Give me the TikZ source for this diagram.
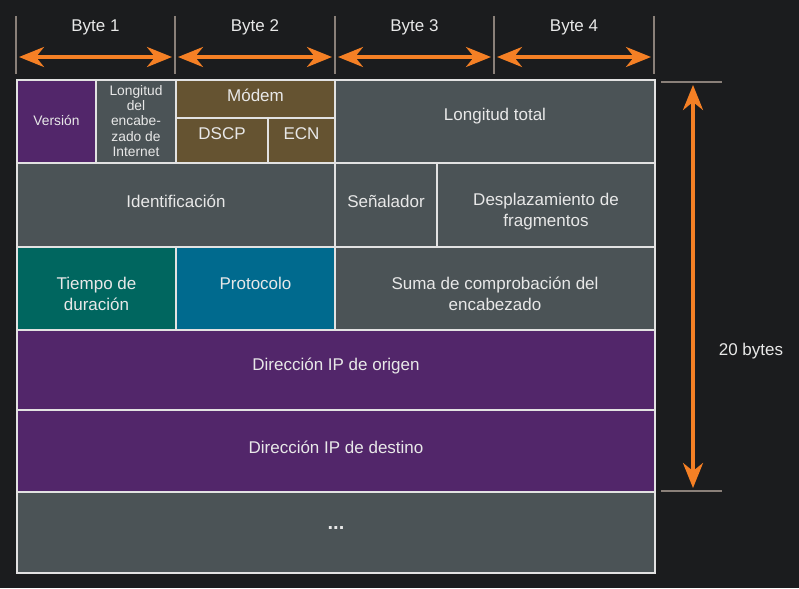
\documentclass[tikz,border=0pt]{standalone}
\usepackage{fontspec}
\setmainfont{Liberation Sans}
\usetikzlibrary{arrows.meta}
\definecolor{bgc}{HTML}{1B1C1E}
\definecolor{linec}{HTML}{E2E2E2}
\definecolor{txtc}{HTML}{E8E8E8}
\definecolor{purp}{HTML}{52266A}
\definecolor{grayc}{HTML}{4B5356}
\definecolor{brownc}{HTML}{655331}
\definecolor{tealc}{HTML}{00665F}
\definecolor{bluec}{HTML}{006A8E}
\definecolor{orangec}{HTML}{F58025}
\definecolor{tickc}{HTML}{8A8079}
% #1 style, #2 name, #3-#6 x1 y1 x2 y2, #7 colour, #8 text y, #9 text
\newcommand\ipcell[9][bigtxt]{%
  \node[cellbox, fill=#7,
    minimum width={(#5-#3)*1pt}, minimum height={(#6-#4)*1pt}]
    (#2) at ({(#3+#5)/2},{-(#4+#6)/2}) {};
  \node[#1] (#2-t) at ({(#3+#5)/2},-#8) {#9};}
\begin{document}
\begin{tikzpicture}[x=1pt,y=1pt,
  cellbox/.style={rectangle, draw=linec, line width=2.5pt, inner sep=0pt, outer sep=0pt},
  bigtxt/.style={text=txtc, align=center, inner sep=0pt,
    font=\fontsize{17pt}{21pt}\selectfont},
  smalltxt/.style={text=txtc, align=center, inner sep=0pt,
    font=\fontsize{13.8pt}{15.3pt}\selectfont},
  tickline/.style={draw=tickc, line width=1.5pt},
  oarrow/.style={draw=orangec, line width=3.5pt,
    {Stealth[length=25pt,width=20pt,inset=8pt]}-{Stealth[length=25pt,width=20pt,inset=8pt]}},
  lbl/.style={text=txtc, font=\fontsize{17pt}{20pt}\selectfont, inner sep=0pt}]
\fill[bgc] (0,0) rectangle (799,-588);
\useasboundingbox (0,0) rectangle (799,-588);
% byte ticks
\foreach \i/\x in {0/16,1/175,2/335,3/494,4/654}{
  \coordinate (t\i a) at (\x,-16);
  \coordinate (t\i b) at (\x,-74);
  \draw[tickline] (t\i a) -- (t\i b);
}
\foreach \i/\xa/\xb/\n in {1/16/175/1,2/175/335/2,3/335/494/3,4/494/654/4}{
  \coordinate (a\i l) at (\xa+3,-57);
  \coordinate (a\i r) at (\xb-3,-57);
  \draw[oarrow] (a\i l) -- (a\i r);
  \node[lbl] (byte\i) at ({(\xa+\xb)/2},-27) {Byte \n};
}
% cells
\ipcell[smalltxt]{version}{17}{80}{96}{163}{purp}{120}{Versión}
\ipcell[smalltxt]{ihl}{96}{80}{176}{163}{grayc}{121}{Longitud\\del\\encabe-\\zado de\\Internet}
\ipcell{modem}{176}{80}{335}{118}{brownc}{95}{Módem}
\ipcell{dscp}{176}{118}{268}{163}{brownc}{134}{DSCP}
\ipcell{ecn}{268}{118}{335}{163}{brownc}{134}{ECN}
\ipcell{total}{335}{80}{655}{163}{grayc}{116}{Longitud total}
\ipcell{ident}{17}{163}{335}{247}{grayc}{201}{Identificación}
\ipcell{flag}{335}{163}{437}{247}{grayc}{201}{Señalador}
\ipcell{frag}{437}{163}{655}{247}{grayc}{211.5}{Desplazamiento de\\fragmentos}
\ipcell{ttl}{17}{247}{176}{330}{tealc}{293.5}{Tiempo de\\duración}
\ipcell{proto}{176}{247}{335}{330}{bluec}{283}{Protocolo}
\ipcell{csum}{335}{247}{655}{330}{grayc}{293.5}{Suma de comprobación del\\encabezado}
\ipcell{src}{17}{330}{655}{410}{purp}{366}{Dirección IP de origen}
\ipcell{dst}{17}{410}{655}{492}{purp}{447}{Dirección IP de destino}
\ipcell{more}{17}{492}{655}{573}{grayc}{528}{\textbf{\fontsize{20pt}{20pt}\selectfont ...}}
% vertical dimension
\coordinate (h1a) at (661,-82);
\coordinate (h1b) at (722,-82);
\coordinate (h2a) at (661,-491);
\coordinate (h2b) at (722,-491);
\draw[tickline] (h1a) -- (h1b);
\draw[tickline] (h2a) -- (h2b);
\coordinate (vtop) at (693,-85);
\coordinate (vbot) at (693,-488);
\draw[oarrow] (vtop) -- (vbot);
\node[lbl] (twenty) at (751,-351) {20 bytes};
\end{tikzpicture}
\end{document}
